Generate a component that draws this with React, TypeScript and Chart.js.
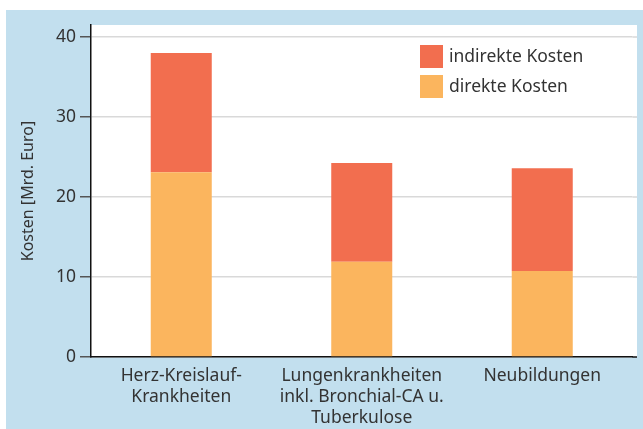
import React, { useEffect, useRef } from "react";
import { Chart, registerables } from "chart.js";

Chart.register(...registerables);

const categories: string[][] = [
  ["Herz-Kreislauf-", "Krankheiten"],
  ["Lungenkrankheiten", "inkl. Bronchial-CA u.", "Tuberkulose"],
  ["Neubildungen"],
];
const direkteKosten = [23.1, 11.9, 10.75];
const indirekteKosten = [14.9, 12.35, 12.85];
const seriesNames = ["direkte Kosten", "indirekte Kosten"];
const yTicks = [0, 10, 20, 30, 40];
const yTitle = "Kosten [Mrd. Euro]";

const COL_DIRECT = "#FBB55E";
const COL_INDIRECT = "#F26E4F";
const BLUE = "#C2DFEE";
const TEXT = "#333333";
const FONT = "'Noto Sans', sans-serif";
const EXT = 4.5;

const bgPlugin = {
  id: "bg",
  beforeDraw(chart: any) {
    const { ctx, width, height, chartArea } = chart;
    ctx.save();
    ctx.fillStyle = "#ffffff";
    ctx.fillRect(0, 0, width, height);
    ctx.fillStyle = BLUE;
    ctx.fillRect(6, 10, width - 6, height - 10);
    ctx.fillStyle = "#ffffff";
    ctx.fillRect(chartArea.left, chartArea.top, chartArea.right - chartArea.left + EXT, chartArea.bottom - chartArea.top);
    ctx.restore();
  },
  beforeDatasetsDraw(chart: any) {
    const { ctx, chartArea, scales } = chart;
    ctx.save();
    ctx.strokeStyle = "#d9d9d9";
    ctx.lineWidth = 1.5;
    yTicks.forEach((t) => {
      if (t === 0) return;
      const y = scales.y.getPixelForValue(t);
      ctx.beginPath();
      ctx.moveTo(chartArea.right, y);
      ctx.lineTo(chartArea.right + EXT, y);
      ctx.stroke();
    });
    ctx.strokeStyle = "#111";
    ctx.beginPath();
    ctx.moveTo(chartArea.right, chartArea.bottom);
    ctx.lineTo(chartArea.right + EXT, chartArea.bottom);
    ctx.stroke();
    ctx.restore();
  },
};

const legendPlugin = {
  id: "customLegend",
  afterDraw(chart: any) {
    const { ctx } = chart;
    const items = [
      { label: seriesNames[1], color: COL_INDIRECT },
      { label: seriesNames[0], color: COL_DIRECT },
    ];
    ctx.save();
    ctx.font = `17.5px ${FONT}`;
    ctx.textBaseline = "middle";
    ctx.textAlign = "left";
    items.forEach((it, i) => {
      const y = 45 + i * 30;
      ctx.fillStyle = it.color;
      ctx.fillRect(420, y, 23, 23);
      ctx.fillStyle = TEXT;
      ctx.fillText(it.label, 449, y + 12);
    });
    ctx.restore();
  },
};

export default function App() {
  const ref = useRef<HTMLCanvasElement>(null);
  useEffect(() => {
    document.body.style.margin = "0";
    const chart = new Chart(ref.current!, {
      type: "bar",
      data: {
        labels: categories,
        datasets: [
          { label: seriesNames[0], data: direkteKosten, backgroundColor: COL_DIRECT },
          { label: seriesNames[1], data: indirekteKosten, backgroundColor: COL_INDIRECT },
        ],
      },
      options: {
        animation: false,
        responsive: false,
        layout: { padding: { left: 6, top: 25, right: 10.5, bottom: 0 } },
        datasets: { bar: { barPercentage: 0.338, categoryPercentage: 1 } },
        plugins: { legend: { display: false }, tooltip: { enabled: false } },
        scales: {
          x: {
            stacked: true,
            grid: { drawOnChartArea: false, drawTicks: false },
            border: { color: "#111", width: 1.5 },
            ticks: { color: TEXT, font: { size: 17.5, family: FONT }, padding: 9, maxRotation: 0, autoSkip: false },
            afterFit(scale: any) {
              scale.height = 72;
            },
          },
          y: {
            stacked: true,
            min: 0,
            max: 41.5,
            afterBuildTicks(scale: any) {
              scale.ticks = yTicks.map((v) => ({ value: v }));
            },
            grid: { color: "#d9d9d9", lineWidth: 1.5, tickLength: 11, tickColor: "#555", tickWidth: 1.5 },
            border: { color: "#111", width: 1.5 },
            ticks: { color: TEXT, font: { size: 17.5, family: FONT }, padding: 4 },
            title: { display: true, text: yTitle, color: TEXT, font: { size: 16, family: FONT }, padding: { top: 13, bottom: 0 } },
            afterFit(scale: any) {
              scale.width = 85;
            },
          },
        },
      },
      plugins: [bgPlugin, legendPlugin],
    });
    return () => chart.destroy();
  }, []);
  return <canvas ref={ref} width={643} height={429} style={{ display: "block" }} />;
}
